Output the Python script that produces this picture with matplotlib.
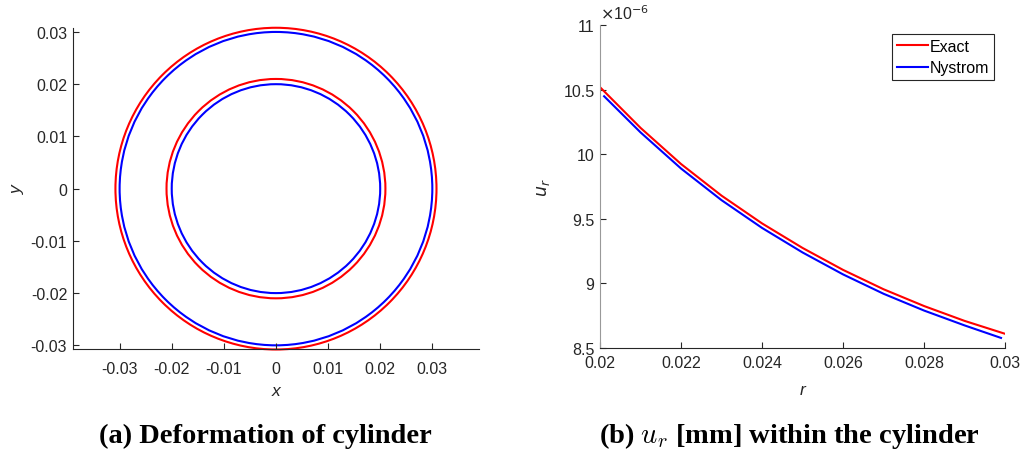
import numpy as np
import matplotlib
matplotlib.use('Agg')
import matplotlib.pyplot as plt
from matplotlib.patches import Circle
from matplotlib.ticker import FormatStrFormatter

plt.rcParams['font.family'] = ['Liberation Sans', 'DejaVu Sans']
plt.rcParams['axes.unicode_minus'] = False

# (a) cylinder cross-section: undeformed (blue) and deformed (red, exaggerated)
radii_undeformed = [0.02, 0.03]
radii_deformed = [0.021, 0.0308]
xy_ticks = [-0.03, -0.02, -0.01, 0, 0.01, 0.02, 0.03]

# (b) radial displacement u_r (x 1e-6) along r
r_exact = [0.020, 0.021, 0.022, 0.023, 0.024, 0.025, 0.026, 0.027, 0.028, 0.029, 0.030]
u_exact = [10.52, 10.205, 9.925, 9.68, 9.465, 9.275, 9.105, 8.955, 8.825, 8.71, 8.61]
r_nystrom = [0.0201, 0.021, 0.022, 0.023, 0.024, 0.025, 0.026, 0.027, 0.028, 0.029, 0.0299]
u_nystrom = [10.45, 10.17, 9.89, 9.645, 9.43, 9.24, 9.07, 8.92, 8.79, 8.675, 8.578]
r_ticks = [0.02, 0.022, 0.024, 0.026, 0.028, 0.03]
u_ticks = [8.5, 9, 9.5, 10, 10.5, 11]

dark = '#262626'
fs = 11.5
fig = plt.figure(figsize=(10.24, 4.52), dpi=100)

# ---- left panel
ax1 = fig.add_axes([0.071, 0.2257, 0.397, 0.7095])
for rad in radii_deformed:
    ax1.add_patch(Circle((0, 0), rad, fill=False, ec='red', lw=1.5, clip_on=False))
for rad in radii_undeformed:
    ax1.add_patch(Circle((0, 0), rad, fill=False, ec='blue', lw=1.5, clip_on=False))
ax1.set_xlim(-0.039, 0.039)
ax1.set_ylim(-0.0307, 0.0307)
ax1.set_xticks(xy_ticks)
ax1.set_yticks(xy_ticks)
ax1.xaxis.set_major_formatter(FormatStrFormatter('%g'))
ax1.yaxis.set_major_formatter(FormatStrFormatter('%g'))
ax1.tick_params(axis='x', direction='in', length=4, colors=dark, labelsize=fs, pad=9)
ax1.tick_params(axis='y', direction='in', length=4, colors=dark, labelsize=fs, pad=4)
ax1.set_xlabel('x', fontsize=12.5, style='italic', color=dark, labelpad=5)
ax1.set_ylabel('y', fontsize=12.5, style='italic', color=dark, labelpad=4)

# ---- right panel
ax2 = fig.add_axes([0.586, 0.2279, 0.3955, 0.714])
ax2.plot(r_exact, u_exact, color='red', lw=1.5, label='Exact')
ax2.plot(r_nystrom, u_nystrom, color='blue', lw=1.5, label='Nystrom')
ax2.set_xlim(0.02, 0.03)
ax2.set_ylim(8.5, 11)
ax2.set_xticks(r_ticks)
ax2.set_yticks(u_ticks)
ax2.xaxis.set_major_formatter(FormatStrFormatter('%g'))
ax2.yaxis.set_major_formatter(FormatStrFormatter('%g'))
ax2.tick_params(axis='x', direction='in', length=4, colors=dark, labelsize=fs, pad=5)
ax2.tick_params(axis='y', direction='in', length=4, colors=dark, labelsize=fs, pad=4)
ax2.set_xlabel('r', fontsize=12.5, style='italic', color=dark, labelpad=9)
ax2.set_ylabel('$u_r$', fontsize=12.5, color=dark, labelpad=8)
ax2.text(0.0, 1.01, r'$\times$10$^{\mathsf{-6}}$', transform=ax2.transAxes,
         fontsize=fs, color=dark, ha='left', va='bottom')
leg = ax2.legend(loc='upper right', bbox_to_anchor=(0.973, 0.973), fontsize=fs,
                 frameon=True, fancybox=False, framealpha=1, edgecolor=dark,
                 handlelength=1.9, handletextpad=0.15, labelspacing=0.4,
                 borderpad=0.3, borderaxespad=0)
leg.get_frame().set_linewidth(0.8)

for ax in (ax1, ax2):
    ax.spines['top'].set_visible(False)
    ax.spines['right'].set_visible(False)
    ax.spines['bottom'].set_color(dark)
    ax.spines['left'].set_color(dark)
ax2.spines['left'].set_color('#999999')

# captions
fig.text(0.259, 0.02, '(a) Deformation of cylinder', family='Liberation Serif',
         weight='bold', fontsize=20.5, ha='center', va='baseline')
fig.text(0.771, 0.02, '(b) $u_r$ [mm] within the cylinder', family='Liberation Serif',
         weight='bold', fontsize=20.5, ha='center', va='baseline', math_fontfamily='cm')

fig.savefig('out.png', dpi=100)
